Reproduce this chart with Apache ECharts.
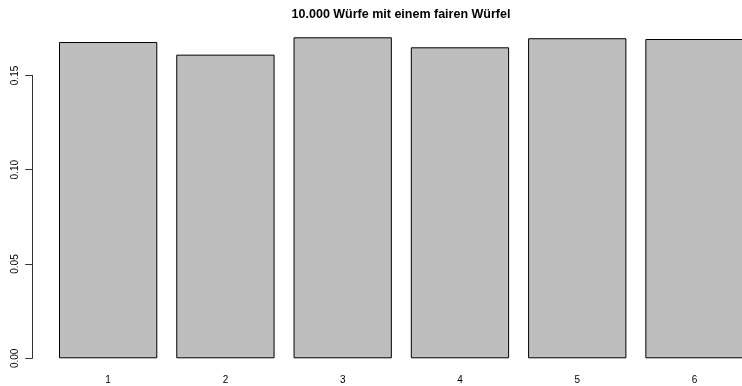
<!DOCTYPE html>
<html>
<head>
<meta charset="utf-8">
<script src="https://cdn.jsdelivr.net/npm/echarts@6/dist/echarts.min.js"></script>
<style>
html,body{margin:0;padding:0;background:#fff;}
#c{width:742px;height:386px;}
</style>
</head>
<body>
<div id="c"></div>
<script>
var titleText = "10.000 Würfe mit einem fairen Würfel";
var categories = ["1", "2", "3", "4", "5", "6"];
var frequencies = [0.1677, 0.1610, 0.1702, 0.1649, 0.1697, 0.1693];
var yTicks = [0, 0.05, 0.10, 0.15];

var chart = echarts.init(document.getElementById('c'), null, {renderer: 'canvas'});
chart.setOption({
  animation: false,
  backgroundColor: '#ffffff',
  title: {
    text: titleText,
    left: 396, top: 3, textAlign: 'center',
    textStyle: {fontFamily: 'Liberation Sans, Arial, sans-serif', fontSize: 12.5, fontWeight: 'bold', color: '#000'}
  },
  grid: {left: 108.15, top: 75.4, width: 586.35, height: 282.9, containLabel: false},
  xAxis: {
    type: 'category',
    data: categories,
    boundaryGap: false,
    axisLine: {show: false},
    axisTick: {show: false},
    axisLabel: {margin: 17, fontSize: 10, color: '#000', fontFamily: 'Liberation Sans, Arial, sans-serif'}
  },
  yAxis: {
    type: 'value',
    min: yTicks[0], max: yTicks[yTicks.length - 1], interval: 0.05,
    offset: 75.85,
    axisLine: {show: true, lineStyle: {color: '#333', width: 1}},
    axisTick: {show: true, length: 7, lineStyle: {color: '#333'}},
    splitLine: {show: false},
    axisLabel: {
      rotate: 90, margin: 12, fontSize: 10, color: '#000',
      fontFamily: 'Liberation Sans, Arial, sans-serif',
      formatter: function (v) { return v.toFixed(2); }
    }
  },
  series: [{
    type: 'bar',
    data: frequencies,
    barWidth: 98.3,
    clip: false,
    itemStyle: {color: '#bebebe', borderColor: '#000', borderWidth: 1}
  }]
});
</script>
</body>
</html>
